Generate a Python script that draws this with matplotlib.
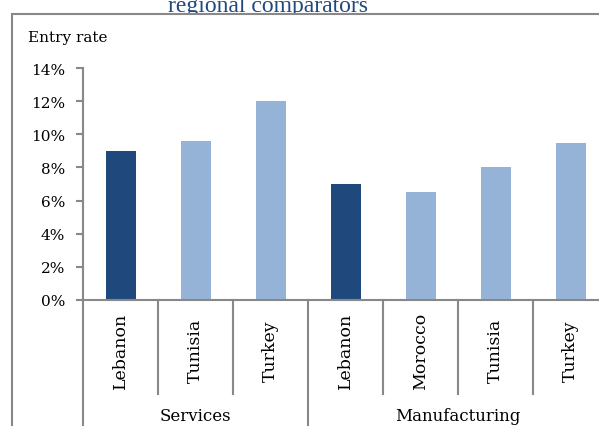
import matplotlib
matplotlib.use("Agg")
import matplotlib.pyplot as plt
from matplotlib.patches import Rectangle
from matplotlib.lines import Line2D
import matplotlib.transforms as mtransforms

groups = ["Services", "Manufacturing"]
group_sizes = [3, 4]
countries = ["Lebanon", "Tunisia", "Turkey", "Lebanon", "Morocco", "Tunisia", "Turkey"]
values = [9.0, 9.6, 12.0, 7.0, 6.5, 8.0, 9.5]
is_lebanon = [True, False, False, True, False, False, False]
yticks = [0, 2, 4, 6, 8, 10, 12, 14]

DARK = "#1F497D"
LIGHT = "#95B3D7"
GRAY = "#888888"
plt.rcParams["font.family"] = ["DejaVu Serif"]

W, H = 599, 427
fig = plt.figure(figsize=(W / 100, H / 100), dpi=100)
ax = fig.add_axes([83 / W, 1 - 301 / H, (608 - 83) / W, (301 - 69) / H])
ax.set_zorder(3)
ax.patch.set_alpha(0)

xs = list(range(len(values)))
colors = [DARK if l else LIGHT for l in is_lebanon]
ax.bar(xs, values, width=0.4, color=colors)
ax.set_xlim(-0.5, len(values) - 0.5)
ax.set_ylim(0, 14)
ax.set_yticks(yticks)
ax.set_yticklabels([f"{v}%" for v in yticks], fontsize=11)
ax.set_xticks([])
for s in ["top", "right"]:
    ax.spines[s].set_visible(False)
for s in ["left", "bottom"]:
    ax.spines[s].set_color(GRAY)
    ax.spines[s].set_linewidth(1.5)
ax.tick_params(axis="y", direction="out", length=5, width=1.5, color=GRAY, pad=8)

trans = mtransforms.blended_transform_factory(ax.transData, ax.transAxes)
boundaries = [i - 0.5 for i in range(len(values) + 1)]
group_edges = [-0.5]
acc = -0.5
for g in group_sizes:
    acc += g
    group_edges.append(acc)
for b in boundaries:
    full = any(abs(b - e) < 1e-9 for e in group_edges)
    y1 = -0.6 if full else -94 / 232
    ax.add_line(Line2D([b, b], [0, y1], transform=trans, color=GRAY, lw=1.5, clip_on=False))

for x, c in zip(xs, countries):
    ax.text(x, -50 / 232, c, rotation=90, ha="center", va="center", transform=trans,
            fontsize=12.5)

start = -0.5
for g, n in zip(groups, group_sizes):
    ax.text(start + n / 2, -116 / 232, g, ha="center", va="center", transform=trans,
            fontsize=12)
    start += n

fig.text(28 / W, 1 - 38 / H, "Entry rate", fontsize=11, ha="left", va="center", zorder=4)

fig.text(268 / W, 1 - 12 / H, "regional comparators", fontfamily=["Liberation Serif"],
         fontsize=17, color=DARK, ha="center", va="baseline", zorder=1)

fig.add_artist(Rectangle((12 / W, -0.2), 1.2, 1.2 - 15 / H, transform=fig.transFigure,
                         facecolor="white", edgecolor=GRAY, lw=1.5, zorder=2))

fig.savefig("out.png", dpi=100)
